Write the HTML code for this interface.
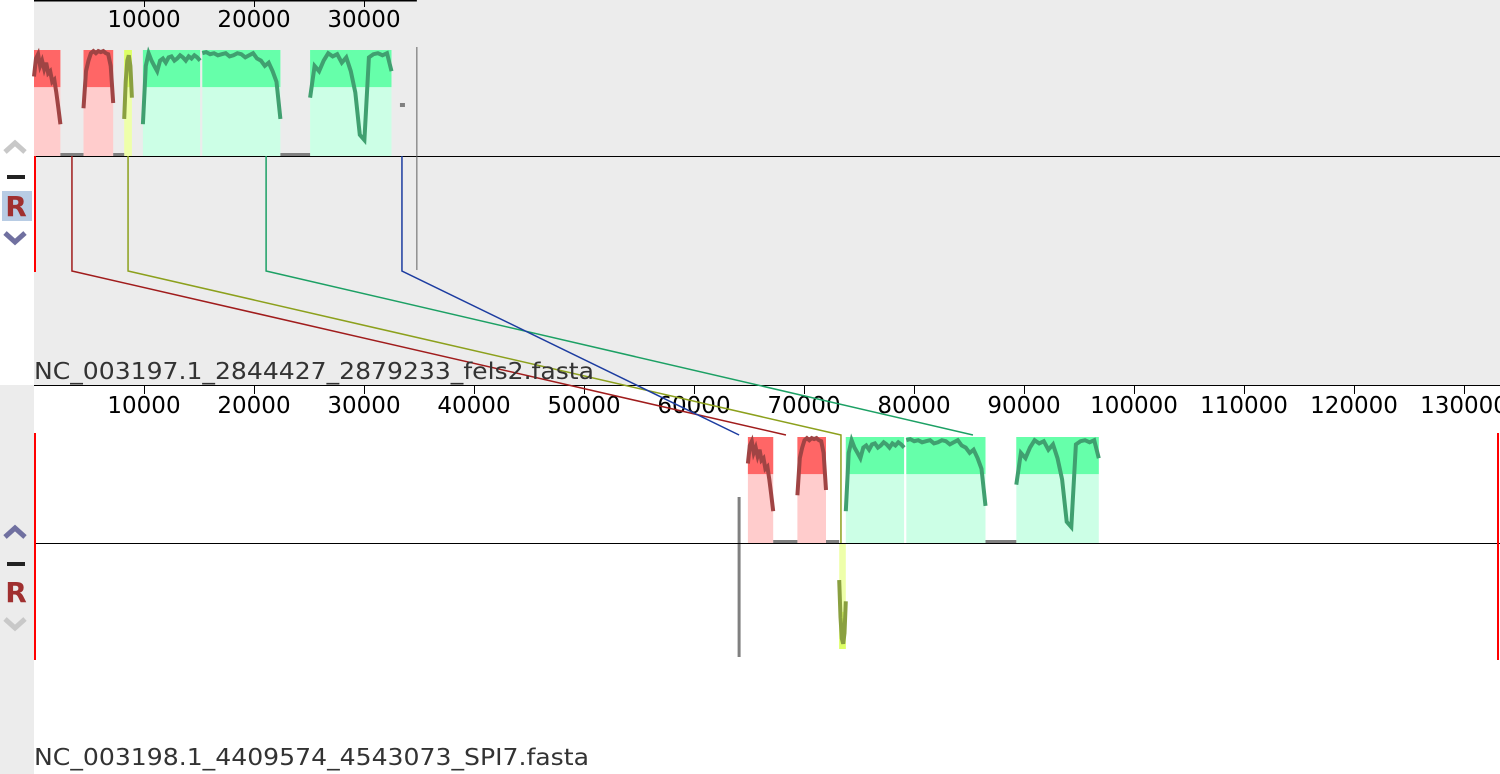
<!DOCTYPE html>
<html><head><meta charset="utf-8">
<style>
html,body{margin:0;padding:0;background:#fff;}
svg{display:block;font-family:"DejaVu Sans","Liberation Sans",sans-serif;}
</style></head><body>
<svg id="chart" width="1500" height="774" viewBox="0 0 1500 774" xmlns="http://www.w3.org/2000/svg">
<rect x="0" y="0" width="1500" height="774" fill="#fff"/>
<rect x="34" y="0" width="1466" height="385" fill="#ececec"/>
<rect x="0" y="385" width="34" height="389" fill="#ececec"/>
<g id="g"></g>
</svg>
<script>
const ticks = [10000,20000,30000,40000,50000,60000,70000,80000,90000,100000,110000,120000,130000];
const topLength = 34806;
const botLength = 133499;
const blockNames = ['lcb-red','lcb-red-2','lcb-yellow','lcb-green','lcb-green-2','lcb-green-3'];
const blockColorIdx = [0,0,1,2,2,2];
const topStarts = [0,4500,8200,9900,15300,25100];
const topEnds   = [2400,7200,8900,15100,22400,32500];
const botStarts = [64900,69400,73200,73800,79300,89300];
const botEnds   = [67200,72000,73800,79100,86500,96800];
const botInverted = [false,false,true,false,false,false];
// similarity profiles (fraction of block height)
const profiles = [
 [0.75,0.92,0.96,0.85,0.9,0.82,0.88,0.78,0.8,0.7,0.72,0.6,0.45,0.3],
 [0.45,0.8,0.9,0.97,0.99,0.97,0.99,0.98,0.99,0.97,0.96,0.85,0.5],
 [0.35,0.7,0.9,0.95,0.85,0.55],
 [0.3,0.85,0.97,0.9,0.85,0.8,0.9,0.92,0.88,0.93,0.94,0.9,0.92,0.95,0.93,0.9,0.94,0.92,0.95,0.93,0.9],
 [0.97,0.98,0.96,0.97,0.95,0.96,0.97,0.94,0.95,0.97,0.96,0.93,0.95,0.97,0.92,0.9,0.85,0.88,0.8,0.7,0.35],
 [0.55,0.85,0.8,0.9,0.97,0.94,0.96,0.88,0.93,0.8,0.6,0.2,0.15,0.93,0.96,0.97,0.95,0.97,0.8]
];
const connColors = ['#a01c1c','#8ca01c','#1ca064','#1c3ca0'];
const connTop = [3450,8550,21100,33450];
const connBot = [68360,73360,85360,64100];

const fills=[['#ffcccc','#ff6666','#a04444'],['#eeffaa','#ddff66','#8aa040'],['#ccffe6','#66ffaa','#40a070']];
const NS='http://www.w3.org/2000/svg';
const g=document.getElementById('g');
function el(t,a,txt){const e=document.createElementNS(NS,t);for(const k in a)e.setAttribute(k,a[k]);if(txt!==undefined)e.textContent=txt;g.appendChild(e);return e;}
const xS=bp=>34+bp*0.011;

const T={top:50,mid:156,bot:262};
const B={top:437,mid:543,bot:649};

function drawBlock(s,e,ci,prof,P,inv,name){
  const x1=xS(s),x2=xS(e),f=fills[ci];
  const h=P.mid-P.top;
  const y0=inv?P.mid:P.top;
  let r=el('rect',{x:x1,y:y0,width:x2-x1,height:h,fill:f[0]});
  
  
  let r2=el('rect',{x:x1,y:inv?P.mid+h*0.65:P.top,width:x2-x1,height:h*0.35,fill:f[1]});
  
  
  const pts=prof.map((v,i)=>{const x=x1+(x2-x1)*i/(prof.length-1);const y=inv?P.mid+h*v:P.mid-h*v;return x.toFixed(1)+','+y.toFixed(1);});
  let pl=el('polyline',{points:pts.join(' '),fill:'none',stroke:f[2],'stroke-width':4});
  
  
}
for(let i=0;i<blockNames.length;i++){
  drawBlock(topStarts[i],topEnds[i],blockColorIdx[i],profiles[i],T,false,'top-'+blockNames[i]);
  drawBlock(botStarts[i],botEnds[i],blockColorIdx[i],profiles[i],B,botInverted[i],'bottom-'+blockNames[i]);
}
function gap(a,b,P,name){let l=el('line',{x1:xS(a),y1:P.mid-1,x2:xS(b),y2:P.mid-1,stroke:'#808080','stroke-width':4});}
for(let i=0;i<5;i++){ if(i!==2&&i!==3){gap(topEnds[i],topStarts[i+1],T,'top-gap-'+i);} }
for(let i=0;i<5;i++){ if(i!==2&&i!==3){gap(botEnds[i],botStarts[i+1],B,'bottom-gap-'+i);} }
let gv=el('line',{x1:xS(64100),y1:497,x2:xS(64100),y2:657,stroke:'#808080','stroke-width':3});

let gt=el('rect',{x:xS(33450)-2,y:103,width:5,height:4,fill:'#808080'});


let c1=el('line',{x1:34,y1:156.5,x2:1500,y2:156.5,stroke:'#000','stroke-width':1});

let c2=el('line',{x1:34,y1:543.5,x2:1500,y2:543.5,stroke:'#000','stroke-width':1});

let m1=el('line',{x1:35,y1:156,x2:35,y2:272,stroke:'#ff0000','stroke-width':2});

let m2=el('line',{x1:xS(topLength),y1:47,x2:xS(topLength),y2:270,stroke:'#606060','stroke-width':1});

let m3=el('line',{x1:35,y1:433,x2:35,y2:660,stroke:'#ff0000','stroke-width':2});

let m4=el('line',{x1:1498,y1:433,x2:1498,y2:660,stroke:'#ff0000','stroke-width':2});


let r1=el('line',{x1:34,y1:0.5,x2:xS(topLength),y2:0.5,stroke:'#000','stroke-width':2});

let r2=el('line',{x1:34,y1:385.5,x2:1500,y2:385.5,stroke:'#000','stroke-width':1});

ticks.forEach(t=>{
  if(t<topLength){
    let tl=el('line',{x1:xS(t)+0.5,y1:0,x2:xS(t)+0.5,y2:7,stroke:'#000','stroke-width':1});
    
    let tx=el('text',{x:xS(t),y:27,'text-anchor':'middle','font-size':23,fill:'#000'},String(t));
    
  }
  let tl=el('line',{x1:xS(t)+0.5,y1:386,x2:xS(t)+0.5,y2:394,stroke:'#000','stroke-width':1});
  
  let tx=el('text',{x:xS(t),y:413,'text-anchor':'middle','font-size':23,fill:'#000'},String(t));
  
});

for(let i=0;i<connTop.length;i++){
  const xt=xS(connTop[i]),xb=xS(connBot[i]);
  let p=el('polyline',{points:`${xt},156 ${xt},271 ${xb},435`+(i===1?` ${xb},543`:''),fill:'none',stroke:connColors[i],'stroke-width':1.5});
  
}

let n1=el('text',{x:34,y:379,'font-size':23,fill:'#333',textLength:560,lengthAdjust:'spacingAndGlyphs'},'NC_003197.1_2844427_2879233_fels2.fasta');

let n2=el('text',{x:34,y:765,'font-size':23,fill:'#333',textLength:555,lengthAdjust:'spacingAndGlyphs'},'NC_003198.1_4409574_4543073_SPI7.fasta');


function chev(y,up,col,name){let p=el('polyline',{points:up?`5,${y+6} 15,${y-3} 25,${y+6}`:`5,${y-5} 15,${y+4} 25,${y-5}`,fill:'none',stroke:col,'stroke-width':5});}
chev(146,true,'#c8c8c8','top-move-up-button');
chev(238,false,'#7070a0','top-move-down-button');
chev(531,true,'#7070a0','bottom-move-up-button');
chev(624,false,'#c8c8c8','bottom-move-down-button');
function dash(y,name){let r=el('rect',{x:7,y:y,width:18,height:4,fill:'#222'});}
dash(175,'top-hide-button');dash(562,'bottom-hide-button');
let rb=el('rect',{x:2,y:191,width:30,height:30,fill:'#b8cce4'});
let R1=el('text',{x:16,y:216,'text-anchor':'middle','font-size':28,'font-weight':'bold',fill:'#a03030'},'R');

let R2=el('text',{x:16,y:602,'text-anchor':'middle','font-size':28,'font-weight':'bold',fill:'#a03030'},'R');

</script>
</body></html>
